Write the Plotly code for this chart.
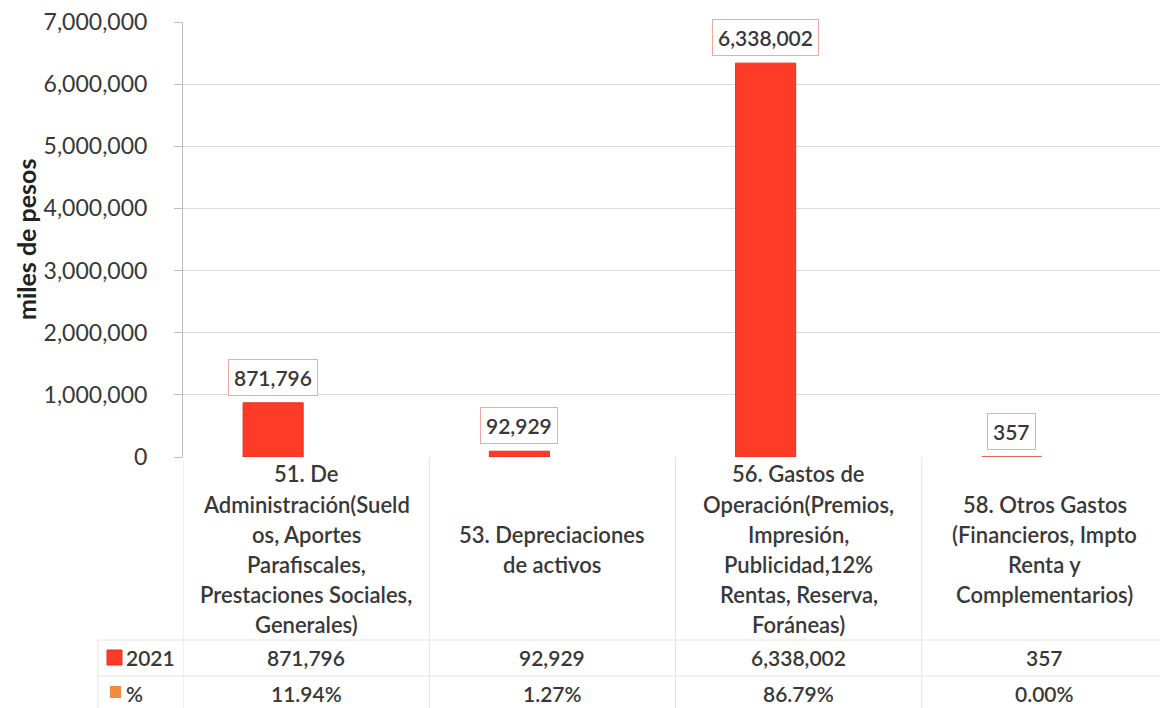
import plotly.graph_objects as go

# data
categories = [
    "51. De<br>Administración(Sueld<br>os, Aportes<br>Parafiscales,<br>Prestaciones Sociales,<br>Generales)",
    "53. Depreciaciones<br>de activos",
    "56. Gastos de<br>Operación(Premios,<br>Impresión,<br>Publicidad,12%<br>Rentas, Reserva,<br>Foráneas)",
    "58. Otros Gastos<br>(Financieros, Impto<br>Renta y<br>Complementarios)",
]
values_2021 = [871796, 92929, 6338002, 357]
pct = [11.94, 1.27, 86.79, 0.00]
series_names = ["2021", "%"]
y_ticks = [0, 1000000, 2000000, 3000000, 4000000, 5000000, 6000000, 7000000]

# the page has an 8px body margin, so the figure is drawn 8px smaller
OFF = 8
W, H = 1168 - OFF, 708 - OFF
ML, MR, MT, MB = 183 - OFF, 0, 22 - OFF, 708 - 457
PW, PH = W - ML - MR, H - MT - MB

RED = "#fd3b26"
ORANGE = "#f48a3f"
TXT = "#383838"
FONT = "Lato"
WT = 600
TABLE_LINE = "#e4e4e4"


def px(x):
    # reference page pixel -> paper x
    return (x - OFF - ML) / PW


def py(y):
    # reference page pixel -> paper y
    return (MT + PH - (y - OFF)) / PH


def tfont(size, color=TXT, weight=WT):
    return dict(family=FONT, size=size, color=color, weight=weight)


x_idx = list(range(len(categories)))
bar_offset, bar_width = -0.256, 0.244

fig = go.Figure()
fig.add_trace(go.Bar(
    x=x_idx, y=values_2021, name=series_names[0],
    offset=bar_offset, width=bar_width,
    marker=dict(color=RED, line=dict(color="#e5301c", width=1)),
    showlegend=False, hoverinfo="skip",
))

# data labels in bordered boxes above each bar
for i, v in zip(x_idx, values_2021):
    fig.add_annotation(
        x=i + bar_offset + bar_width / 2, y=v, xref="x", yref="y",
        text=f"{v:,}", showarrow=False, yanchor="bottom", yshift=7,
        font=tfont(21),
        bgcolor="white", bordercolor="#f2a89c", borderwidth=1, borderpad=5,
    )

# data table: category header row, one line per annotation (30px line pitch)
for i, c in zip(x_idx, categories):
    lines = c.split("<br>")
    top = 549 - 30 * (len(lines) - 1) / 2
    for k, line in enumerate(lines):
        fig.add_annotation(
            x=i, y=py(top + 30 * k), xref="x", yref="paper", text=line,
            showarrow=False, yanchor="middle", font=tfont(22),
        )
# value rows
for i, v, p in zip(x_idx, values_2021, pct):
    fig.add_annotation(x=i, y=py(657), xref="x", yref="paper", text=f"{v:,}",
                       showarrow=False, yanchor="middle", font=tfont(21))
    fig.add_annotation(x=i, y=py(693), xref="x", yref="paper", text=f"{p:.2f}%",
                       showarrow=False, yanchor="middle", font=tfont(21))

# row labels with legend keys
fig.add_annotation(x=px(124), y=py(657), xref="paper", yref="paper", text=series_names[0],
                   xanchor="left", yanchor="middle", showarrow=False, font=tfont(21))
fig.add_annotation(x=px(124), y=py(693), xref="paper", yref="paper", text=series_names[1],
                   xanchor="left", yanchor="middle", showarrow=False, font=tfont(21))
fig.add_shape(type="rect", xref="paper", yref="paper", x0=px(107), x1=px(122),
              y0=py(665), y1=py(650), fillcolor=RED, line=dict(color="#e5301c", width=1))
fig.add_shape(type="rect", xref="paper", yref="paper", x0=px(110), x1=px(121),
              y0=py(698), y1=py(686), fillcolor=ORANGE, line=dict(width=0))

# table grid lines
for b in [-0.5, 0.5, 1.5, 2.5, 3.5]:
    fig.add_shape(type="line", xref="x", yref="paper", x0=b, x1=b, y0=0, y1=py(708),
                  line=dict(color=TABLE_LINE, width=1))
for yy in [640, 676]:
    fig.add_shape(type="line", xref="paper", yref="paper", x0=px(98), x1=1, y0=py(yy), y1=py(yy),
                  line=dict(color=TABLE_LINE, width=1))
fig.add_shape(type="line", xref="paper", yref="paper", x0=px(98), x1=px(98), y0=py(640), y1=py(708),
              line=dict(color=TABLE_LINE, width=1))

# y axis title
fig.add_annotation(x=px(26), y=py(240), xref="paper", yref="paper", text="miles de pesos",
                   textangle=-90, showarrow=False, xanchor="center", yanchor="middle",
                   font=tfont(25, color="#222222", weight="bold"))

fig.update_layout(
    width=W, height=H,
    margin=dict(l=ML, r=MR, t=MT, b=MB),
    plot_bgcolor="white", paper_bgcolor="white",
    font=dict(family=FONT, color=TXT),
    xaxis=dict(range=[-0.5, 3.5], showticklabels=False, showgrid=False, zeroline=False,
               showline=False, fixedrange=True),
    yaxis=dict(range=[0, 7000000], tickvals=y_ticks, tickformat=",", showgrid=True,
               gridcolor="#dadada", zeroline=False, showline=True, linecolor="#bdbdbd",
               ticks="outside", ticklen=8, tickcolor="#bdbdbd", ticklabelstandoff=22,
               ticklabeloverflow="allow",
               tickfont=dict(family=FONT, size=23, color=TXT)),
)

fig.write_html("out.html")
